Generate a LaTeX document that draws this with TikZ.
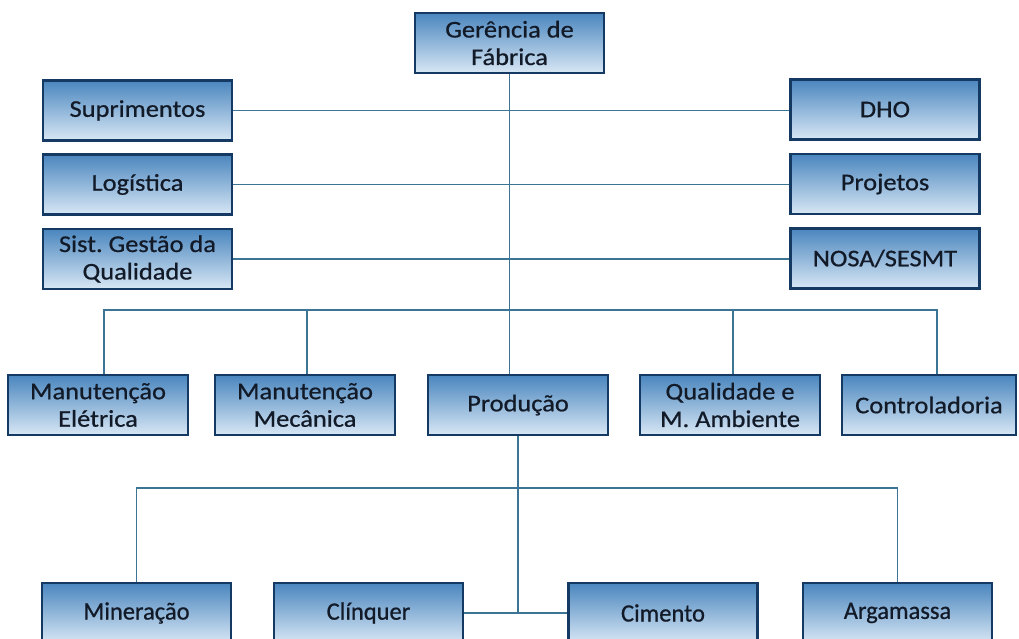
\documentclass[tikz,border=0pt]{standalone}
\usepackage{fontspec}
\setmainfont{Carlito}[FakeStretch=1.1,FakeBold=0.7]
\newfontfamily\botfont{Carlito}[FakeStretch=0.98,FakeBold=0.7]
\frenchspacing
\definecolor{boxtop}{RGB}{74,134,190}
\definecolor{boxbot}{RGB}{216,231,245}
\definecolor{boxedge}{RGB}{20,58,100}
\definecolor{linkcol}{RGB}{60,116,148}
\definecolor{txtcol}{RGB}{18,26,40}
\tikzset{
  orgbox/.style={draw=boxedge, line width=2.6pt, top color=boxtop, bottom color=boxbot,
    text=txtcol, align=center, font=\fontsize{24}{27.5}\selectfont,
    inner sep=0pt, minimum width=189pt, minimum height=60pt},
  midbox/.style={orgbox, minimum width=180pt},
  botbox/.style={orgbox, font=\botfont\fontsize{25}{29}\selectfont, minimum height=60pt},
  link/.style={draw=linkcol, line width=1.5pt}
}
\begin{document}
\begin{tikzpicture}[x=1pt,y=-1pt]
\path[use as bounding box] (0,0) rectangle (1019,639);
\clip (0,0) rectangle (1019,639);
\fill[white] (0,0) rectangle (1019,639);
% top
\node[orgbox] (ger) at (509.5,43) {Gerência de\\Fábrica};
\node[orgbox] (sup) at (137.5,110.5) {Suprimentos};
\node[orgbox] (log) at (137.5,184.5) {Logística};
\node[orgbox] (sgq) at (137.5,259) {Sist. Gestão da\\Qualidade};
\node[orgbox] (dho) at (885,109.5) {DHO};
\node[orgbox] (prj) at (885,184) {Projetos};
\node[orgbox] (nosa) at (885,258.5) {NOSA/SESMT};
% middle row
\node[midbox] (me) at (98,405) {Manutenção\\Elétrica};
\node[midbox] (mm) at (305,405) {Manutenção\\Mecânica};
\node[midbox] (prod) at (518,405) {Produção};
\node[midbox] (qma) at (730,405) {Qualidade e\\M. Ambiente};
\node[midbox, minimum width=174pt] (ctrl) at (929,405) {Controladoria};
% bottom row
\node[botbox] (min) at (136.5,613) {Mineração};
\node[botbox] (cli) at (368.5,613) {Clínquer};
\node[botbox] (cim) at (663,613) {Cimento};
\node[botbox] (arg) at (897.5,613) {Argamassa};
% coordinates
\coordinate (hb) at (519,488);
\coordinate (dme) at (104,310);
\coordinate (dmm) at (307,310);
\coordinate (dqma) at (733,310);
\coordinate (dctrl) at (937,310);
% links
\draw[link] (ger.south) -- (ger.south |- prod.north);
\draw[link] (sup.east) -- (sup.east -| dho.west);
\draw[link] (log.east) -- (log.east -| prj.west);
\draw[link] (sgq.east) -- (sgq.east -| nosa.west);
\draw[link] (dme |- me.north) -- (dme) -- (dctrl) -- (dctrl |- ctrl.north);
\draw[link] (dmm) -- (dmm |- mm.north);
\draw[link] (dqma) -- (dqma |- qma.north);
\draw[link] (prod.south) -- (prod.south |- cli.east);
\draw[link] (cli.east) -- (cim.west);
\draw[link] (min.north) -- (min.north |- hb) -- (arg.north |- hb) -- (arg.north);
\end{tikzpicture}
\end{document}
